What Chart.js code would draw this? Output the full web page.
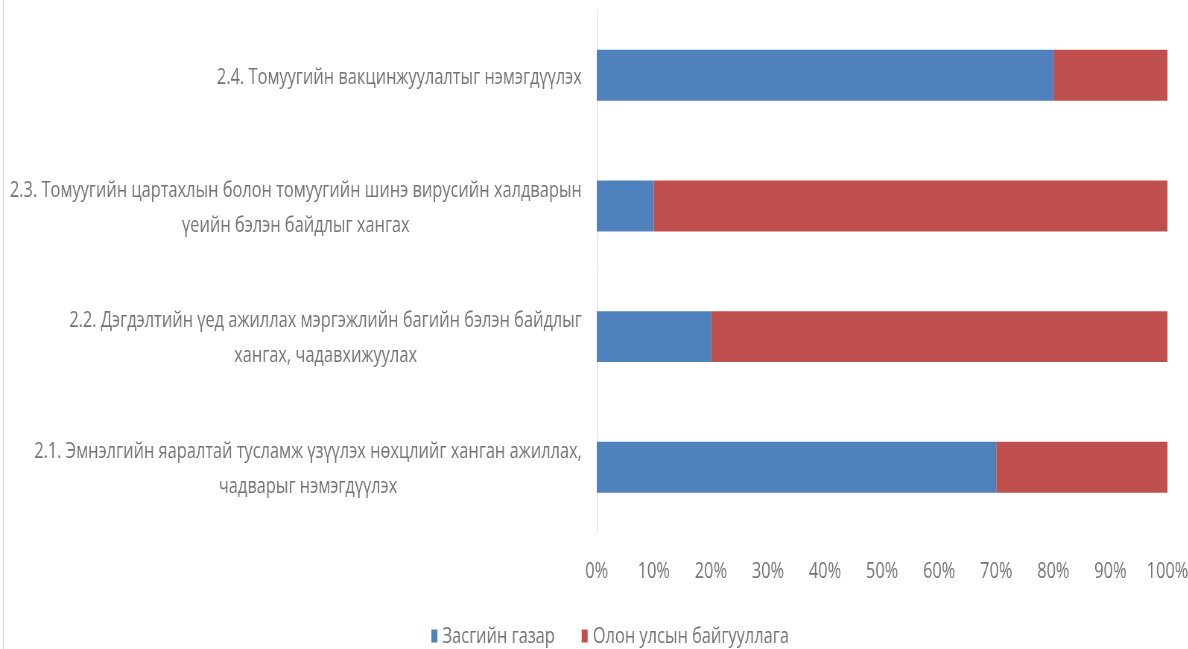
<!DOCTYPE html>
<html>
<head>
<meta charset="utf-8">
<script src="https://cdn.jsdelivr.net/npm/chart.js@4/dist/chart.umd.min.js"></script>
<style>
  html, body { margin: 0; padding: 0; background: #fff; overflow: hidden; }
  /* the chart is drawn wider and squeezed back, so its text looks condensed like Calibri */
  #wrap { width: 1595px; height: 649px; transform: scaleX(0.745); transform-origin: 0 0; }
</style>
</head>
<body>
<div id="wrap"><canvas id="myChart" width="1595" height="649"></canvas></div>
<script>
/*               data                */

const categories = [
    ['2.1. Эмнэлгийн яаралтай тусламж үзүүлэх нөхцлийг ханган ажиллах,', 'чадварыг нэмэгдүүлэх'],
    ['2.2. Дэгдэлтийн үед ажиллах мэргэжлийн багийн бэлэн байдлыг', 'хангах, чадавхижуулах'],
    ['2.3. Томуугийн цартахлын болон томуугийн шинэ вирусийн халдварын', 'үеийн бэлэн байдлыг хангах'],
    ['2.4. Томуугийн вакцинжуулалтыг нэмэгдүүлэх']
];
const seriesNames = ['Засгийн газар', 'Олон улсын байгууллага'];
const government = [70, 20, 10, 80];
const international = [30, 80, 90, 20];
const tickValues = [0, 10, 20, 30, 40, 50, 60, 70, 80, 90, 100];

const FONT = '"Open Sans", "Noto Sans", sans-serif';
const TEXT = '#737373';

/*               frame line, category labels and legend                */
const extras = {
    id: 'extras',
    beforeDraw(chart) {
        const c = chart.ctx;
        c.save();
        c.strokeStyle = '#d9d9d9';
        c.lineWidth = 1.3;
        c.beginPath();
        c.moveTo(4.5, 0);
        c.lineTo(4.5, chart.height);
        c.stroke();
        c.restore();
    },
    afterDraw(chart) {
        const c = chart.ctx;
        const y = chart.scales.y;
        c.save();
        c.font = '22px ' + FONT;
        c.fillStyle = TEXT;
        c.textAlign = 'center';
        c.textBaseline = 'middle';

        // category labels: block right aligned to the axis, lines centred in it
        const lineH = 35;
        categories.forEach(function (lines, i) {
            const cy = y.getPixelForValue(i) + 2;
            let w = 0;
            lines.forEach(function (l) { w = Math.max(w, c.measureText(l).width); });
            const cx = y.right - 20 - w / 2;
            const top = cy - (lines.length - 1) * lineH / 2;
            lines.forEach(function (l, k) {
                c.fillText(l, cx, top + k * lineH);
            });
        });

        // legend
        const boxW = 8, boxH = 13, gapText = 7, gapItem = 36;
        const items = chart.data.datasets.map(function (ds) {
            return { text: ds.label, color: ds.backgroundColor, w: c.measureText(ds.label).width };
        });
        let total = 0;
        items.forEach(function (it, i) {
            total += boxW + gapText + it.w + (i < items.length - 1 ? gapItem : 0);
        });
        let x = 819 - total / 2;
        const ly = 636;
        c.textAlign = 'left';
        items.forEach(function (it) {
            c.fillStyle = it.color;
            c.fillRect(x, ly - boxH / 2, boxW, boxH);
            x += boxW + gapText;
            c.fillStyle = TEXT;
            c.fillText(it.text, x, ly + 1);
            x += it.w + gapItem;
        });
        c.restore();
    }
};

let ctx = document.getElementById('myChart').getContext('2d');
let chart = new Chart(ctx, {
    type: 'bar',
    data: {
        labels: categories,
        datasets: [{
            label: seriesNames[0],
            backgroundColor: '#4F81BD',
            data: government
        }, {
            label: seriesNames[1],
            backgroundColor: '#C0504D',
            data: international
        }]
    },
    options: {
        indexAxis: 'y',
        responsive: false,
        animation: false,
        layout: { padding: { top: 10, bottom: 64 } },
        datasets: {
            bar: { categoryPercentage: 1, barPercentage: 0.39 }
        },
        scales: {
            x: {
                stacked: true,
                min: 0,
                max: 100,
                afterBuildTicks: function (scale) {
                    scale.ticks = tickValues.map(function (v) { return { value: v }; });
                },
                // invisible tick marks give the gap under the plot without widening the side padding
                grid: { display: false, drawTicks: true, tickLength: 26 },
                border: { display: false },
                ticks: {
                    padding: 0,
                    color: TEXT,
                    font: { family: FONT, size: 22 },
                    callback: function (v) { return v + '%'; }
                }
            },
            y: {
                stacked: true,
                reverse: true,
                grid: { display: false, drawTicks: false },
                border: { display: true, color: '#d9d9d9' },
                ticks: { display: false },
                afterFit: function (scale) { scale.width = 801; }
            }
        },
        plugins: {
            tooltip: { enabled: false },
            legend: { display: false }
        }
    },
    plugins: [extras]
});
</script>
</body>
</html>
